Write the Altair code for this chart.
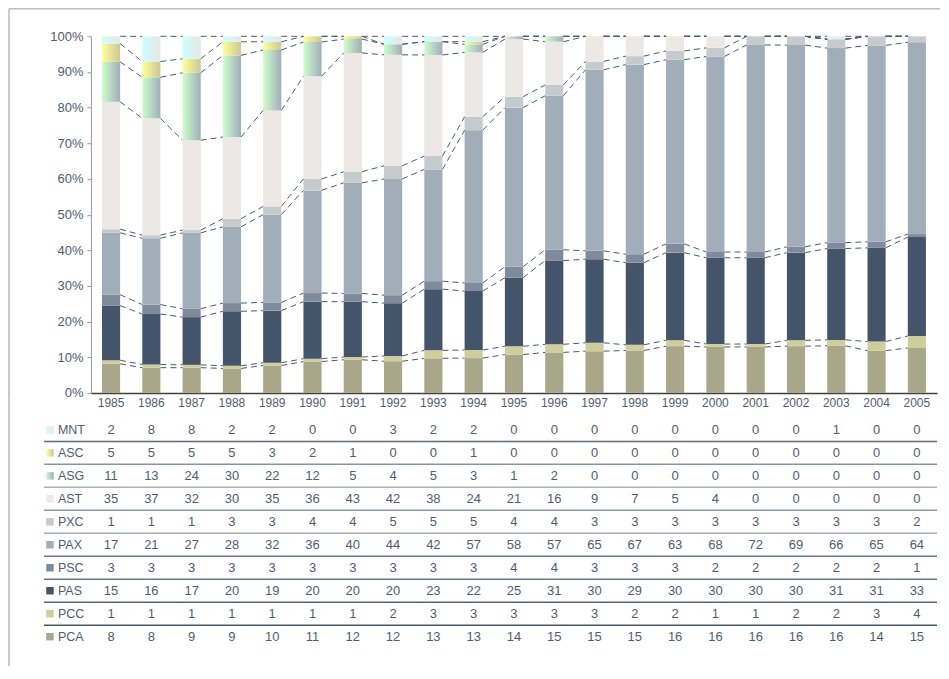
import altair as alt
import pandas as pd

years = [str(y) for y in range(1985, 2006)]
series = ["MNT", "ASC", "ASG", "AST", "PXC", "PAX", "PSC", "PAS", "PCC", "PCA"]

MNT = [2, 8, 8, 2, 2, 0, 0, 3, 2, 2, 0, 0, 0, 0, 0, 0, 0, 0, 1, 0, 0]
ASC = [5, 5, 5, 5, 3, 2, 1, 0, 0, 1, 0, 0, 0, 0, 0, 0, 0, 0, 0, 0, 0]
ASG = [11, 13, 24, 30, 22, 12, 5, 4, 5, 3, 1, 2, 0, 0, 0, 0, 0, 0, 0, 0, 0]
AST = [35, 37, 32, 30, 35, 36, 43, 42, 38, 24, 21, 16, 9, 7, 5, 4, 0, 0, 0, 0, 0]
PXC = [1, 1, 1, 3, 3, 4, 4, 5, 5, 5, 4, 4, 3, 3, 3, 3, 3, 3, 3, 3, 2]
PAX = [17, 21, 27, 28, 32, 36, 40, 44, 42, 57, 58, 57, 65, 67, 63, 68, 72, 69, 66, 65, 64]
PSC = [3, 3, 3, 3, 3, 3, 3, 3, 3, 3, 4, 4, 3, 3, 3, 2, 2, 2, 2, 2, 1]
PAS = [15, 16, 17, 20, 19, 20, 20, 20, 23, 22, 25, 31, 30, 29, 30, 30, 30, 30, 31, 31, 33]
PCC = [1, 1, 1, 1, 1, 1, 1, 2, 3, 3, 3, 3, 3, 2, 2, 1, 1, 2, 2, 3, 4]
PCA = [8, 8, 9, 9, 10, 11, 12, 12, 13, 13, 14, 15, 15, 15, 16, 16, 16, 16, 16, 14, 15]

values = {"MNT": MNT, "ASC": ASC, "ASG": ASG, "AST": AST, "PXC": PXC,
          "PAX": PAX, "PSC": PSC, "PAS": PAS, "PCC": PCC, "PCA": PCA}

y_ticks = [0.0, 0.1, 0.2, 0.3, 0.4, 0.5, 0.6, 0.7, 0.8, 0.9, 1.0]

flat_series = ["AST", "PXC", "PAX", "PSC", "PAS", "PCC", "PCA"]
flat_colors = ["#ebe8e5", "#c7cacd", "#a2adba", "#7f8a9c", "#44546a", "#cfcd9a", "#a8a78a"]

def grad(c0, c1):
    return {"gradient": "linear", "x1": 0, "x2": 1, "y1": 0, "y2": 0,
            "stops": [{"offset": 0, "color": c0}, {"offset": 1, "color": c1}]}

gradients = {
    "MNT": grad("#ccffff", "#e8e6e2"),
    "ASC": grad("#ffff99", "#c9c79a"),
    "ASG": grad("#ccffcc", "#a2adba"),
}

row_line_colors = ["#5d6a7e", "#8a93a0", "#aab2bd", "#8e98a6", "#a6aeb9",
                   "#6c778a", "#6c778a", "#56637a", "#4a5568"]

# ---- derived tables ----
stack_order = series[::-1]
rows = []
for i, y in enumerate(years):
    total = sum(values[s][i] for s in series)
    cum = 0
    for s in stack_order:
        v = values[s][i]
        lo = cum / total
        cum += v
        hi = cum / total
        rows.append(dict(year=y, series=s, value=v, lo=lo, hi=hi))
df = pd.DataFrame(rows)

lines = []
for s in stack_order:
    sub = df[df.series == s].reset_index(drop=True)
    for i in range(len(years) - 1):
        lines.append(dict(series=s, year=years[i], next_year=years[i + 1],
                          top=sub.hi[i], next_top=sub.hi[i + 1]))
ldf = pd.DataFrame(lines)

rowlines = pd.DataFrame({"series": series[:-1], "c": row_line_colors})

W = 847
H = 357
TH = 230
TXT = "#505c70"
FONT = "Liberation Sans"

xscale = alt.Scale(domain=years, paddingInner=0.55, paddingOuter=0.275)
yscale = alt.Scale(domain=[0, 1], nice=False)

x_axis = alt.Axis(title=None, labelAngle=0, ticks=False, domainColor="#404040",
                  domainWidth=1.5, labelColor=TXT, labelFont=FONT,
                  labelFontSize=12, labelPadding=5)
y_axis = alt.Axis(title=None, values=y_ticks, format=".0%", labelOverlap=False,
                  tickCount=11, grid=False, domainColor="#9a9a9a", tickColor="#9a9a9a",
                  tickSize=4, labelColor=TXT, labelFont=FONT, labelFontSize=13,
                  labelPadding=4)

base = alt.Chart(df)

flat_bars = base.transform_filter(
    alt.FieldOneOfPredicate(field="series", oneOf=flat_series)
).mark_bar().encode(
    x=alt.X("year:N", scale=xscale, axis=x_axis),
    y=alt.Y("lo:Q", scale=yscale, axis=y_axis),
    y2="hi:Q",
    color=alt.Color("series:N", scale=alt.Scale(domain=flat_series, range=flat_colors),
                    legend=None),
)

grad_bars = [
    base.transform_filter(alt.datum.series == s).mark_bar(fill=gradients[s]).encode(
        x=alt.X("year:N", scale=xscale, axis=x_axis),
        y=alt.Y("lo:Q", scale=yscale, axis=y_axis), y2="hi:Q")
    for s in ["ASG", "ASC", "MNT"]
]

series_lines = alt.Chart(ldf).mark_rule(color="#4a5a70", strokeDash=[6, 4], strokeWidth=1).encode(
    x=alt.X("year:N", scale=xscale, bandPosition=1, axis=x_axis),
    x2=alt.X2("next_year", bandPosition=0),
    y=alt.Y("top:Q", scale=yscale, axis=y_axis),
    y2="next_top:Q",
)

one = pd.DataFrame({"a": [0]})
top_border = alt.Chart(one).mark_rule(color="#9a9a9a", strokeWidth=1).encode(
    x=alt.value(-82), x2=alt.value(850), y=alt.value(-27.5))
left_border_top = alt.Chart(one).mark_rule(color="#9a9a9a", strokeWidth=1).encode(
    x=alt.value(-82), y=alt.value(-27.5), y2=alt.value(H))

top = alt.layer(flat_bars, *grad_bars, series_lines, top_border, left_border_top).properties(
    width=W, height=H)

# ---- table ----
tscale = alt.Scale(domain=series, paddingInner=0, paddingOuter=0)
tbase = alt.Chart(df)

numbers = tbase.mark_text(fontSize=13, font=FONT, color=TXT).encode(
    x=alt.X("year:N", scale=xscale, axis=None),
    y=alt.Y("series:N", scale=tscale, axis=None),
    text="value:Q",
)

label_df = pd.DataFrame({"series": series})
labels = alt.Chart(label_df).mark_text(fontSize=12.5, font=FONT, color=TXT, align="left").encode(
    x=alt.value(-33), y=alt.Y("series:N", scale=tscale, axis=None), text="series:N")

flat_sq = alt.Chart(label_df).transform_filter(
    alt.FieldOneOfPredicate(field="series", oneOf=flat_series)
).mark_square(size=56, opacity=1).encode(
    x=alt.value(-41), y=alt.Y("series:N", scale=tscale, axis=None),
    color=alt.Color("series:N", scale=alt.Scale(domain=flat_series, range=flat_colors),
                    legend=None),
)
grad_sq = [
    alt.Chart(label_df).transform_filter(alt.datum.series == s).mark_square(
        size=56, fill=gradients[s], opacity=1).encode(
        x=alt.value(-41), y=alt.Y("series:N", scale=tscale, axis=None))
    for s in ["MNT", "ASC", "ASG"]
]

row_rules = alt.Chart(rowlines).mark_rule(strokeWidth=1.5).encode(
    x=alt.value(-47), x2=alt.value(W),
    y=alt.Y("series:N", scale=tscale, axis=None, bandPosition=1),
    color=alt.Color("c:N", scale=None),
)

left_border_bot = alt.Chart(one).mark_rule(color="#9a9a9a", strokeWidth=1).encode(
    x=alt.value(-82), y=alt.value(-26), y2=alt.value(248))

table = alt.layer(row_rules, numbers, labels, flat_sq, *grad_sq, left_border_bot).properties(
    width=W, height=TH)

chart = alt.vconcat(top, table, spacing=25.5, bounds="flush").resolve_scale(
    color="independent"
).properties(padding=0).configure_view(stroke=None)

chart.save("out.html", embed_options={"renderer": "svg", "actions": False})
